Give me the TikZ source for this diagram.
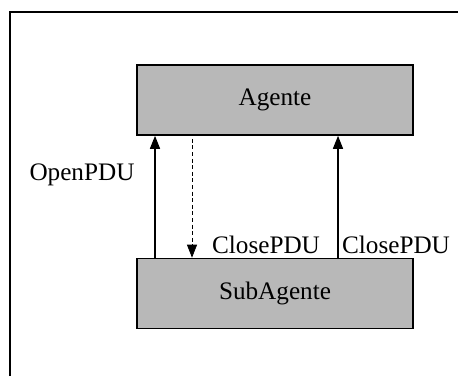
\documentclass[tikz,border=0pt]{standalone}
\usepackage{fontspec}
\setmainfont{Liberation Serif}
\usetikzlibrary{arrows.meta}
\begin{document}
\begin{tikzpicture}[
    x=0.5pt, y=-0.5pt,
    every node/.style={align=center, font=\fontsize{12.6}{14}\selectfont},
    block/.style={rectangle, draw=black, line width=0.8pt, fill=black!28, minimum width=138pt, minimum height=35pt, inner sep=0pt},
    arrow/.style={-{Triangle[width=5pt,length=6.5pt]}, line width=0.75pt, draw=black},
    dasharrow/.style={-{Triangle[width=5pt,length=6.5pt]}, line width=0.4pt, dash pattern=on 2pt off 1.3pt, draw=black}
]
    \useasboundingbox (0,0) rectangle (458,376);
    % Frame
    \draw[line width=1pt] (10,376) -- (10,12) -- (458,12);

    % Nodes
    \node[block] (agente) at (275,100) {Agente};
    \node[block] (subagente) at (275,293.5) {SubAgente};
    \node (open) at (82,175) {OpenPDU};
    \node (close1) at (266,245) {ClosePDU};
    \node (close2) at (396,245) {ClosePDU};

    % Arrows
    \draw[arrow] ([xshift=-60pt]subagente.north) -- ([xshift=-60pt]agente.south);
    \draw[dasharrow] ([xshift=-41.5pt,yshift=-1.5pt]agente.south) -- ([xshift=-41.5pt]subagente.north);
    \draw[arrow] ([xshift=31.5pt]subagente.north) -- ([xshift=31.5pt]agente.south);

\end{tikzpicture}
\end{document}
